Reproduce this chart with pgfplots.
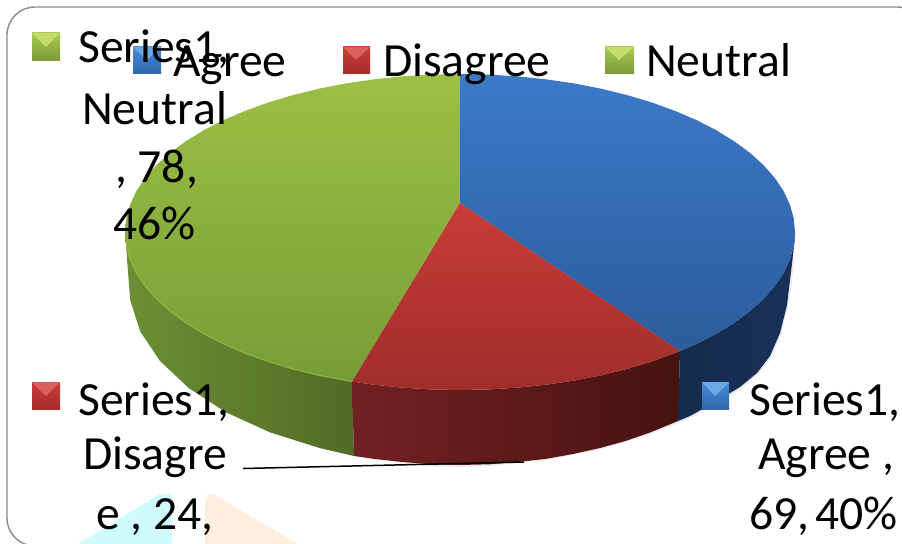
\documentclass[border=0pt]{standalone}
\usepackage{fontspec}
\setmainfont{Carlito}
\usepackage{pgfplots}
\pgfplotsset{compat=1.18}
\definecolor{borderc}{HTML}{8A8A8A}
\definecolor{wcyan}{HTML}{CFFBFD}
\definecolor{wpeach}{HTML}{FDEEDF}
\definecolor{gtop}{HTML}{9CC044}
\definecolor{gbot}{HTML}{779D37}
\definecolor{btop}{HTML}{3C7AC8}
\definecolor{bbot}{HTML}{2C5C9C}
\definecolor{rtop}{HTML}{C93C38}
\definecolor{rbot}{HTML}{A02E2B}
\definecolor{gsl}{HTML}{6C9034}
\definecolor{gsr}{HTML}{526B27}
\definecolor{rsl}{HTML}{732122}
\definecolor{rsr}{HTML}{461310}
\definecolor{bsl}{HTML}{152B4C}
\definecolor{bsr}{HTML}{19315A}
\definecolor{sqgt}{HTML}{A9C94C}
\definecolor{sqgb}{HTML}{7B9A38}
\definecolor{sqgl}{HTML}{C3DC6A}
\definecolor{sqrt}{HTML}{CC3E3A}
\definecolor{sqrb}{HTML}{A32D2C}
\definecolor{sqrl}{HTML}{DB5F5B}
\definecolor{sqbt}{HTML}{4A8AD8}
\definecolor{sqbb}{HTML}{2F68AE}
\definecolor{sqbl}{HTML}{6AA8E8}
\newcommand\legsq[9]{%
  \addplot[draw=none,top color=#7,bottom color=#8] coordinates {(#1,#2) (#3,#2) (#3,#4) (#1,#4)} --cycle;
  \addplot[draw=none,fill=#9] coordinates {(#1,#2) (#3,#2) (#5,#6)} --cycle;
}
\newcommand\lab[3]{\node[anchor=base west,inner sep=0pt,font=\fontsize{47.6bp}{50bp}\selectfont,text=black] at (axis cs:#1,#2) {#3};}
\begin{document}
\begin{tikzpicture}
\begin{axis}[
  scale only axis, width=902bp, height=544bp,
  xmin=0, xmax=902, ymin=0, ymax=544, y dir=reverse,
  hide axis, clip=true]
% background frame
\addplot[draw=none,fill=wcyan] coordinates {(78,544) (155,497) (160,494) (172,494) (172,544)} --cycle;
\addplot[draw=none,fill=wpeach] coordinates {(205,500) (208,494) (213,494) (298,544) (205,544)} --cycle;
\draw[borderc,line width=1.4bp,rounded corners=28bp] (axis cs:7,7) rectangle (axis cs:925,546);
% soft shadow
\addplot[draw=none,fill=black!22,opacity=.4] coordinates {(127,262) (131,285) (132,301) (142,332) (162,362) (191,389) (228,413) (272,433) (322,449) (376,460) (431,466) (460,467) (489,466) (546,460) (601,449) (651,434) (691,418) (716,404) (741,389) (758,375) (771,358) (781,335) (788,307) (792,282) (794,258)} --cycle;
% sides
\addplot[draw=none,left color=gsl,right color=gsr] coordinates {(125,232) (126.3,245.8) (130.1,259.4) (136.4,272.9) (145.2,286) (156.4,298.8) (169.9,311) (185.6,322.6) (203.4,333.6) (223.1,343.7) (244.7,353) (268,361.4) (292.5,368.8) (318.4,375.2) (352,381.6) (354,456) (320.1,448.1) (270.1,432.4) (226,412.3) (188.9,388.2) (160,361) (140.3,331.6) (130.3,300.7) (129,285)} --cycle;
\addplot[draw=none,left color=rsl,right color=rsr] coordinates {(352,381.6) (373.3,384.6) (401.8,387.6) (430.8,389.4) (460,390) (489.2,389.4) (518.2,387.6) (546.7,384.6) (574.6,380.5) (601.6,375.2) (627.5,368.8) (652.2,361.4) (680,351) (678,421) (650,432.5) (625.5,441) (600,448) (573,454) (545.7,458.9) (517.5,462) (488.8,464.3) (460,465) (431.2,464.3) (402.5,462) (374.3,458.9) (354,456)} --cycle;
\addplot[draw=none,left color=bsl,right color=bsr] coordinates {(680,351) (696.9,343.7) (716.6,333.6) (734.4,322.6) (750.1,311) (763.6,298.8) (774.8,286) (783.6,272.9) (789.9,259.4) (793.7,245.8) (795,232) (795,238) (793,255) (790,280) (787,305) (780,333) (770,356) (757,373) (740,387) (715,402) (690,416) (678,421)} --cycle;
% top faces
\addplot[draw=none,top color=gtop,bottom color=gbot] coordinates {(460,203) (352,381.6) (318.4,375.2) (292.5,368.8) (268,361.4) (244.7,353) (223.1,343.7) (203.4,333.6) (185.6,322.6) (169.9,311) (156.4,298.8) (145.2,286) (136.4,272.9) (130.1,259.4) (126.3,245.8) (125,232) (126.3,218.2) (130.1,204.6) (136.4,191.1) (145.2,178) (156.4,165.2) (169.9,153) (185.6,141.4) (203.4,130.4) (223.1,120.3) (244.7,111) (268,102.6) (292.5,95.2) (318.4,88.8) (345.4,83.5) (373.3,79.4) (401.8,76.4) (430.8,74.6) (460,74)} --cycle;
\addplot[draw=none,top color=btop,bottom color=bbot] coordinates {(460,203) (460,74) (489.2,74.6) (518.2,76.4) (546.7,79.4) (574.6,83.5) (601.6,88.8) (627.5,95.2) (652.2,102.6) (675.3,111) (696.9,120.3) (716.6,130.4) (734.4,141.4) (750.1,153) (763.6,165.2) (774.8,178) (783.6,191.1) (789.9,204.6) (793.7,218.2) (795,232) (793.7,245.8) (789.9,259.4) (783.6,272.9) (774.8,286) (763.6,298.8) (750.1,311) (734.4,322.6) (716.6,333.6) (696.9,343.7) (680,351)} --cycle;
\addplot[draw=none,top color=rtop,bottom color=rbot] coordinates {(460,203) (680,351) (652.2,361.4) (627.5,368.8) (601.6,375.2) (574.6,380.5) (546.7,384.6) (518.2,387.6) (489.2,389.4) (460,390) (430.8,389.4) (401.8,387.6) (373.3,384.6) (352,381.6)} --cycle;
% rim highlight on the green slice
\addplot[draw=gtop,line width=1.2bp,opacity=.6] coordinates {(126.3,245.8) (130.1,259.4) (136.4,272.9) (145.2,286) (156.4,298.8) (169.9,311) (185.6,322.6) (203.4,333.6) (223.1,343.7) (244.7,353) (268,361.4) (292.5,368.8) (318.4,375.2) (352,381.6)};
% leader line
\addplot[draw=black,line width=1.5bp] coordinates {(243,468.5) (451,463.7) (524,462)};
% legend squares
\legsq{32}{33}{60}{61}{46}{47}{sqgt}{sqgb}{sqgl}
\legsq{133}{47}{161}{74}{147}{60}{sqbt}{sqbb}{sqbl}
\legsq{343}{47}{370}{74}{356}{60}{sqrt}{sqrb}{sqrl}
\legsq{605}{47}{634}{74}{619}{60}{sqgt}{sqgb}{sqgl}
\legsq{32}{382}{60}{409}{46}{396}{sqrt}{sqrb}{sqrl}
\legsq{702}{382}{729}{409}{715}{396}{sqbt}{sqbb}{sqbl}
% text
\lab{78}{63}{Series1,}
\lab{82}{124}{Neutral}
\lab{115}{182}{, 78,}
\lab{113}{239}{46\%}
\lab{173}{77}{Agree}
\lab{383}{77}{Disagree}
\lab{646}{77}{Neutral}
\lab{78}{415}{Series1,}
\lab{83}{469}{Disagre}
\lab{96}{529}{e , 24,}
\lab{749}{415}{Series1,}
\lab{758}{469}{Agree ,}
\lab{749}{529}{69,\hspace{-0.1em} 40\%}
\end{axis}
\pgfresetboundingbox
\path[use as bounding box] (0,0) rectangle (902bp,544bp);
\end{tikzpicture}
\end{document}
